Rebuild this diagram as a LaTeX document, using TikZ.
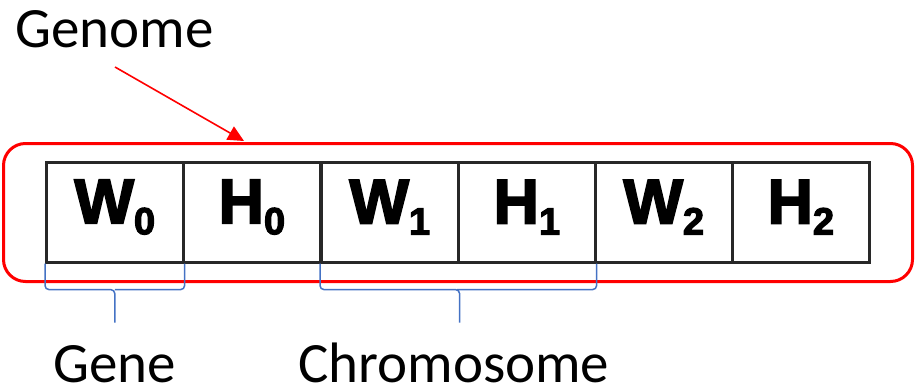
\documentclass[tikz,border=0pt]{standalone}
\usepackage{fontspec}
\setmainfont{Carlito}
\newfontfamily\cellfont[FakeBold=3]{Liberation Sans Bold}
\usetikzlibrary{arrows.meta,calc}
\definecolor{genred}{RGB}{255,0,0}
\definecolor{braceblue}{RGB}{68,114,196}
\definecolor{cellline}{RGB}{40,40,40}
\newcommand{\cellsym}[2]{{\cellfont\fontsize{63}{63}\selectfont #1\raisebox{-11pt}{\fontsize{38}{38}\selectfont #2}}}
\begin{document}
\begin{tikzpicture}[x=1pt,y=-1pt,
  cell/.style={draw=cellline,line width=2.6pt,minimum width=137pt,minimum height=100pt,inner sep=0pt,anchor=north west},
  label/.style={font=\fontsize{57}{57}\selectfont,inner sep=0pt,anchor=base west},
  genbox/.style={draw=genred,line width=3pt,rounded corners=22pt},
  brace/.style={draw=braceblue,line width=1.5pt,rounded corners=4pt},
  pointer/.style={draw=genred,line width=1.6pt,-{Triangle[length=16pt,width=15pt]}}]
  \useasboundingbox (0,0) rectangle (915,391);

  % outer genome frame
  \node[genbox,minimum width=909pt,minimum height=138pt,anchor=north west] (genome) at (2,142) {};

  % gene cells
  \node[cell] (c0) at (45,161) {};
  \node[cell] (c1) at (182,161) {};
  \node[cell] (c2) at (320,161) {};
  \node[cell] (c3) at (457,161) {};
  \node[cell] (c4) at (594,161) {};
  \node[cell] (c5) at (731,161) {};
  \foreach \c/\l/\s in {c0/W/0,c1/H/0,c2/W/1,c3/H/1,c4/W/2,c5/H/2}
    \node[inner sep=0pt] at ([yshift=5pt]\c.center) {\cellsym{\l}{\s}};

  % captions
  \node[label] (tgenome) at (15,47) {Genome};
  \node[label] (tgene) at (53,382) {Gene};
  \node[label] (tchrom) at (298,382) {Chromosome};

  % pointer from caption to frame
  \coordinate (pstart) at (115,67);
  \coordinate (pend) at (244,141);
  \draw[pointer] (pstart) -- (pend);

  % braces below the cells
  \draw[brace] (c0.south west) -- ++(0,26) -- ($(c0.south)+(0,26)$) -- ++(0,33);
  \draw[brace] (c0.south east) -- ++(0,26) -- ($(c0.south)+(0,26)$);
  \draw[brace] (c2.south west) -- ++(0,26) -- ($(c2.south east)+(0,26)$) -- ++(0,33);
  \draw[brace] (c3.south east) -- ++(0,26) -- ($(c3.south west)+(0,26)$);
\end{tikzpicture}
\end{document}
